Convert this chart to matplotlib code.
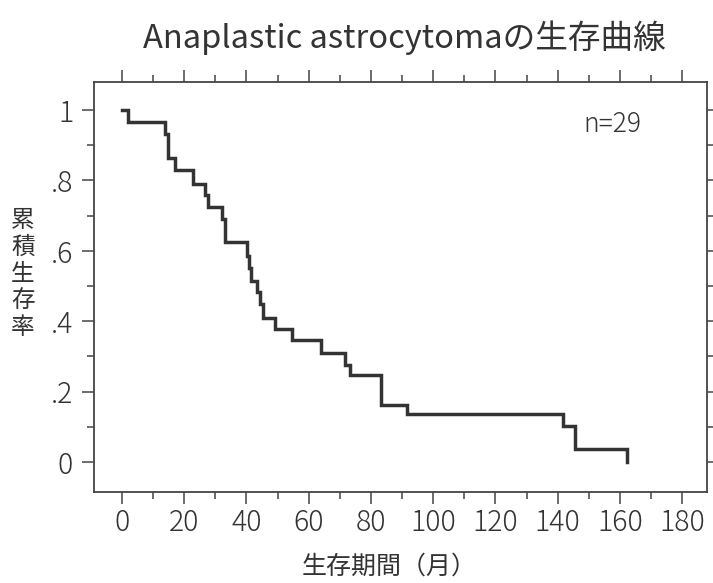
import matplotlib
matplotlib.use("Agg")
import matplotlib.pyplot as plt
import numpy as np

plt.rcParams['font.family'] = ['Noto Sans CJK JP', 'DejaVu Sans']

# survival curve (months, cumulative survival)
months = [0, 2, 13.8, 14.9, 17, 22.8, 26.7, 27.5, 32, 33.2, 40.1, 40.8, 41.5,
          43.3, 44.5, 45.2, 49.2, 54.6, 63.8, 71.8, 73.4, 83.1, 91.7,
          141.6, 145.5, 162.3]
surv = [1.0, 0.966, 0.931, 0.862, 0.828, 0.790, 0.759, 0.724, 0.690, 0.624,
        0.586, 0.552, 0.514, 0.483, 0.448, 0.410, 0.378, 0.346, 0.309,
        0.276, 0.246, 0.163, 0.138, 0.103, 0.037, 0.0]

x_ticks = list(range(0, 181, 20))
y_ticks = [0, 0.2, 0.4, 0.6, 0.8, 1.0]
y_ticklabels = ['0', '.2', '.4', '.6', '.8', '1']

ink = '#333333'

fig = plt.figure(figsize=(7.13, 5.83), dpi=100)
ax = fig.add_axes([94/713, 1-491.7/583, 613/713, 410/583])

ax.step(months, surv, where='post', color=ink, lw=2.5, solid_joinstyle='miter')

ax.set_xlim(-9.0, 188.0)
ax.set_ylim(-0.084, 1.080)

ax.set_xticks(x_ticks)
ax.set_xticks(np.arange(10, 180, 20), minor=True)
ax.set_yticks(y_ticks)
ax.set_yticklabels(y_ticklabels)
ax.set_yticks(np.arange(0.1, 1.0, 0.2), minor=True)

ax.tick_params(axis='x', which='major', direction='out', length=8.5, width=1.1,
               color='#444', top=True, labelsize=20.5, labelcolor=ink, pad=3)
ax.tick_params(axis='x', which='minor', direction='out', length=5, width=1.1,
               color='#444', top=True)
ax.tick_params(axis='y', which='major', direction='out', length=9, width=1.1,
               color='#444', right=False, labelsize=20.5, labelcolor=ink, pad=6)
ax.tick_params(axis='y', which='minor', direction='out', length=5, width=1.1,
               color='#444', right=False)
for lab in ax.get_xticklabels() + ax.get_yticklabels():
    lab.set_fontweight('light')

# short ticks on the right side every .1
sec = ax.secondary_yaxis('right')
sec.set_yticks(np.round(np.arange(0, 1.01, 0.1), 1))
sec.tick_params(direction='out', length=4, width=1.1, color='#444', labelright=False)
sec.spines['right'].set_visible(False)

for s in ax.spines.values():
    s.set_color('#444')
    s.set_linewidth(1.3)

fig.text(612/713, 1-124/583, 'n=29', fontsize=19, color=ink, fontweight='light',
         ha='center', va='center')

fig.text(404/713, 1-38/583, 'Anaplastic astrocytomaの生存曲線', fontsize=23.5,
         color=ink, ha='center', va='center')
fig.text(389/713, 1-567/583, '生存期間（月）', fontsize=18, color=ink,
         ha='center', va='center')
fig.text(23/713, 1-274/583, '\n'.join('累積生存率'), fontsize=17, color=ink,
         ha='center', va='center', linespacing=1.22)

fig.savefig('out.png', dpi=100)
